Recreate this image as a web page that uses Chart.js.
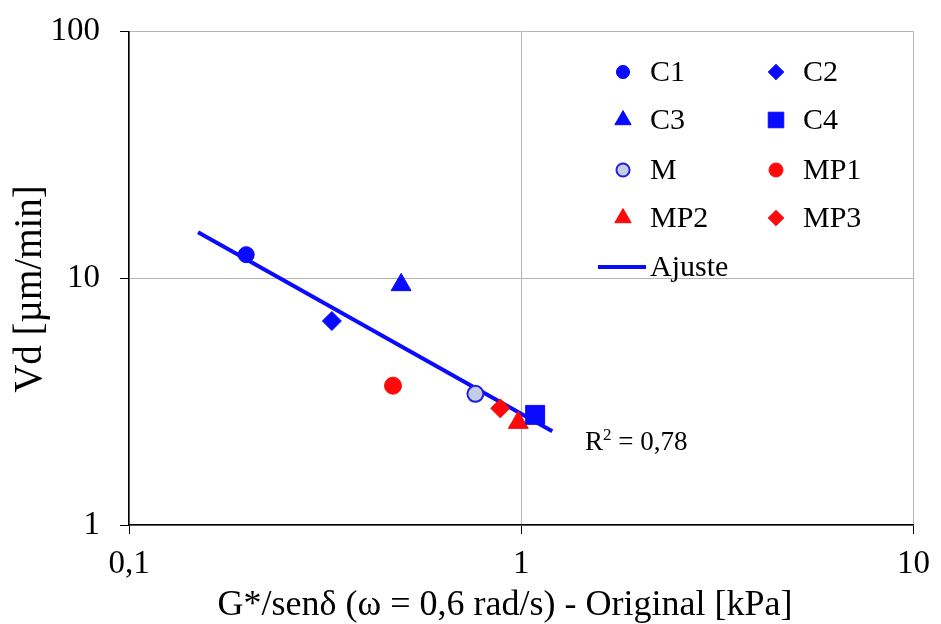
<!DOCTYPE html>
<html>
<head>
<meta charset="utf-8">
<script src="https://cdn.jsdelivr.net/npm/chart.js@4/dist/chart.umd.min.js"></script>
<style>
  html, body { margin: 0; padding: 0; background: #fff; }
  #wrap { width: 941px; height: 624px; }
</style>
</head>
<body>
<div id="wrap"><canvas id="chart" width="941" height="624"></canvas></div>
<script>
// values
const seriesNames = ['C1', 'C2', 'C3', 'C4', 'M', 'MP1', 'MP2', 'MP3'];
const gValues = [0.199, 0.329, 0.494, 1.085, 0.764, 0.471, 0.983, 0.884];
const vdValues = [12.46, 6.71, 9.40, 2.795, 3.40, 3.67, 2.60, 2.97];
const fitX = [0.150, 1.20];
const fitY = [15.37, 2.40];
const xTicks = [0.1, 1, 10];
const yTicks = [1, 10, 100];
const r2Text = '0,78';

const BLUE = '#0a0aff';
const RED = '#ff0a0a';
const SERIF = '"Liberation Serif", "Times New Roman", serif';

// marker look per series
const styles = [
  { shape: 'circle',   r: 8,    fill: BLUE, stroke: BLUE, bw: 1 },
  { shape: 'rectRot',  r: 9.5,  fill: BLUE, stroke: BLUE, bw: 1 },
  { shape: 'triangle', r: 11.5, fill: BLUE, stroke: BLUE, bw: 1 },
  { shape: 'rect',     r: 13.4, fill: BLUE, stroke: BLUE, bw: 1 },
  { shape: 'circle',   r: 8,    fill: '#c4cde6', stroke: '#2020e0', bw: 2 },
  { shape: 'circle',   r: 8.5,  fill: RED,  stroke: RED,  bw: 1 },
  { shape: 'triangle', r: 11.5, fill: RED,  stroke: RED,  bw: 1 },
  { shape: 'rectRot',  r: 9.5,  fill: RED,  stroke: RED,  bw: 1 }
];

const datasets = seriesNames.map((name, i) => ({
  label: name,
  data: [{ x: gValues[i], y: vdValues[i] }],
  pointStyle: styles[i].shape,
  pointRadius: styles[i].r,
  pointHoverRadius: styles[i].r,
  backgroundColor: styles[i].fill,
  borderColor: styles[i].stroke,
  borderWidth: styles[i].bw,
  order: 0
}));

datasets.push({
  type: 'line',
  label: 'Ajuste',
  data: fitX.map((x, i) => ({ x: x, y: fitY[i] })),
  borderColor: BLUE,
  borderWidth: 4,
  pointRadius: 0,
  fill: false,
  order: 10
});

function drawMarker(ctx, st, x, y, scale) {
  ctx.save();
  ctx.fillStyle = st.fill;
  ctx.strokeStyle = st.stroke;
  ctx.lineWidth = st.bw;
  Chart.helpers.drawPoint(ctx, { pointStyle: st.shape, radius: st.r * scale, rotation: 0, borderWidth: st.bw }, x, y);
  ctx.restore();
}

// legend, R² note and axis titles
const extras = {
  id: 'extras',
  afterDraw(chart) {
    const ctx = chart.ctx;
    ctx.save();
    ctx.fillStyle = '#000';
    ctx.textBaseline = 'middle';
    ctx.textAlign = 'left';
    ctx.font = '30px ' + SERIF;
    const colX = [623, 776];
    const rowY = [72, 120, 170, 218];
    seriesNames.forEach((name, i) => {
      const cx = colX[i % 2];
      const cy = rowY[Math.floor(i / 2)];
      drawMarker(ctx, styles[i], cx, cy, 0.82);
      ctx.fillStyle = '#000';
      ctx.fillText(name, cx + 27, cy + 1);
    });
    ctx.strokeStyle = BLUE;
    ctx.lineWidth = 4;
    ctx.beginPath();
    ctx.moveTo(598, 267);
    ctx.lineTo(646, 267);
    ctx.stroke();
    ctx.fillText('Ajuste', 650, 268);

    // R²
    ctx.textBaseline = 'alphabetic';
    ctx.font = '27px ' + SERIF;
    let x = 585;
    ctx.fillText('R', x, 450);
    x += ctx.measureText('R').width;
    ctx.font = '17px ' + SERIF;
    ctx.fillText('2', x, 440);
    x += ctx.measureText('2').width;
    ctx.font = '27px ' + SERIF;
    ctx.fillText(' = ' + r2Text, x, 450);

    // axis titles
    ctx.textAlign = 'center';
    ctx.textBaseline = 'middle';
    ctx.font = '36px ' + SERIF;
    ctx.fillText('G*/senδ (ω = 0,6 rad/s) - Original [kPa]', 505, 606);
    ctx.translate(31, 289);
    ctx.rotate(-Math.PI / 2);
    ctx.font = '39px ' + SERIF;
    ctx.fillText('Vd [µm/min]', 0, 0);
    ctx.restore();
  }
};

const fmt = v => String(v).replace('.', ',');

new Chart(document.getElementById('chart'), {
  type: 'scatter',
  data: { datasets: datasets },
  options: {
    responsive: false,
    animation: false,
    layout: { padding: { left: 0, top: 29, right: 24.5, bottom: 0 } },
    plugins: {
      legend: { display: false },
      tooltip: { enabled: false }
    },
    scales: {
      x: {
        type: 'logarithmic',
        min: 0.1,
        max: 10,
        afterBuildTicks: s => { s.ticks = xTicks.map(v => ({ value: v })); },
        afterFit: s => { s.height = 99; },
        ticks: {
          autoSkip: false,
          maxRotation: 0,
          padding: 11,
          color: '#000',
          font: { family: SERIF, size: 33 },
          callback: v => fmt(v)
        },
        grid: { color: '#b4b4b4', lineWidth: 1, tickLength: 9, tickColor: '#000' },
        border: { color: '#000', width: 1.5 }
      },
      y: {
        type: 'logarithmic',
        min: 1,
        max: 100,
        afterBuildTicks: s => { s.ticks = yTicks.map(v => ({ value: v })); },
        afterFit: s => { s.width = 129; },
        ticks: {
          autoSkip: false,
          padding: 20,
          color: '#000',
          font: { family: SERIF, size: 33, lineHeight: 0.7 },
          callback: v => fmt(v)
        },
        grid: { color: '#b4b4b4', lineWidth: 1, tickLength: 9, tickColor: '#000' },
        border: { color: '#000', width: 1.5 }
      }
    }
  },
  plugins: [extras]
});
</script>
</body>
</html>
